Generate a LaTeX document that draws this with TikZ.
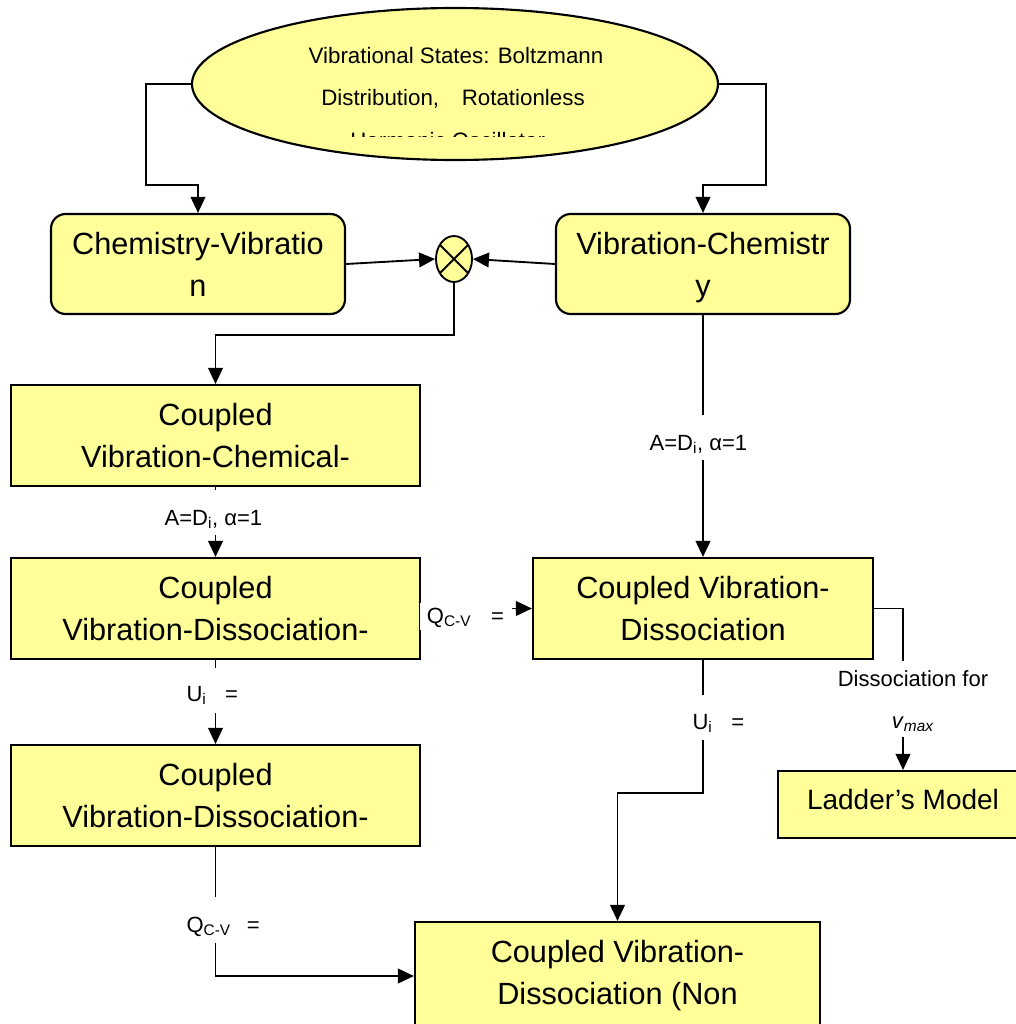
\documentclass[tikz,border=0pt]{standalone}
\usepackage{fontspec}
\setmainfont{Liberation Sans}
\usetikzlibrary{arrows.meta,shapes.geometric}
\definecolor{boxfill}{HTML}{FFFF99}

\begin{document}
\begin{tikzpicture}[x=0.75pt,y=-0.75pt,
  box/.style={draw, line width=1.6pt, fill=boxfill, align=center, inner sep=0pt,
              font=\fontsize{23}{31.5}\selectfont},
  rbox/.style={box, rounded corners=11pt},
  wide/.style={minimum width=306.75pt, minimum height=75.75pt},
  link/.style={line width=1.4pt, -{Triangle[length=12pt,width=11pt]}},
  tag/.style={fill=white, inner xsep=1pt, inner ysep=0pt, anchor=base west,
              font=\fontsize{16.5}{20}\selectfont}]

\clip (0,0) rectangle (1016,1024);
\useasboundingbox (0,0) rectangle (1016,1024);

% top ellipse and its (partly hidden) text
\node[ellipse, draw, line width=1.6pt, fill=boxfill, inner sep=0pt,
      minimum width=394.5pt, minimum height=114pt] (states) at (455,84) {};
\begin{scope}[font=\fontsize{16.75}{20}\selectfont]
  \clip (190,0) rectangle (720,136);
  \node[anchor=base] (st1) at (456,64) {Vibrational States: Boltzmann};
  \node[anchor=base] (st2) at (453,105) {Distribution,\hspace{17pt}Rotationless};
  \node[anchor=base west, inner xsep=0pt] (st3) at (350,148) {Harmonic Oscillator};
\end{scope}

% boxes
\node[rbox, minimum width=220.5pt, minimum height=75pt] (cv) at (198,264) {Chemistry-Vibratio\\n};
\node[rbox, minimum width=220.5pt, minimum height=75pt] (vc) at (703,264) {Vibration-Chemistr\\\smash{y}};
\node[ellipse, draw, fill=boxfill, line width=1.4pt, inner sep=0pt,
      minimum width=27pt, minimum height=34.5pt,
      path picture={\draw[line width=1.4pt]
        ([shift={(-30,-30)}]path picture bounding box.center) -- ([shift={(30,30)}]path picture bounding box.center)
        ([shift={(30,-30)}]path picture bounding box.center) -- ([shift={(-30,30)}]path picture bounding box.center);}]
      (mix) at (454,259) {};

\node[box, wide] (cvc) at (215.5,435.5) {Coupled\\Vibration-Chemical-};
\node[box, wide] (cvd1) at (215.5,608.5) {Coupled\\Vibration-Dissociation-};
\node[box, wide] (cvd2) at (215.5,795.5) {Coupled\\Vibration-Dissociation-};
\node[box, minimum width=255pt, minimum height=75.75pt] (cvd) at (703,608.5) {Coupled Vibration-\\Dissociation};
\node[box, minimum width=187.5pt, minimum height=50.25pt, text depth=8.25pt,
      font=\fontsize{21}{25}\selectfont] (ladder) at (903,804.5) {Ladder’s Model};
\node[box, minimum width=303.75pt, minimum height=81pt] (cvdn) at (617.5,976) {Coupled Vibration-\\Dissociation (Non};

% connectors
\coordinate (jl) at (146,185);
\coordinate (jr) at (766,185);
\coordinate (jm) at (0,335);
\coordinate (jb) at (0,793);
\draw[link] (states.west) -| (jl) -| (cv.north);
\draw[link] (states.east) -| (jr) -| (vc.north);
\draw[link] (cv.east) -- (mix.west);
\draw[link] (vc.west) -- (mix.east);
\draw[link] (mix.south) -- (mix.south |- jm) -| (cvc.north);
\draw[link] (cvc.south) -- (cvd1.north);
\draw[link] (cvd1.south) -- (cvd2.north);
\draw[link] (cvd2.south) |- (cvdn.west);
\draw[link] (vc.south) -- (cvd.north);
\draw[link] (cvd1.east) -- (cvd.west);
\draw[link] (cvd.south) -- (cvd.south |- jb) -| (cvdn.north);
\draw[link] (cvd.east) -| (ladder.north);

% connector labels
\node[tag, text height=26.25pt, text depth=7.5pt] (lab1) at (163,525) {A=D\textsubscript{i}, α=1};
\node[tag, text height=24.75pt, text depth=9pt] (lab2) at (185,701) {U\textsubscript{i}\hspace{14pt}=};
\node[tag, text height=26.25pt, text depth=8.25pt] (lab3) at (185,932) {Q\textsubscript{C-V}\hspace{12pt}=};
\node[tag, text height=26.25pt, text depth=7.5pt] (lab4) at (648,450) {A=D\textsubscript{i}, α=1};
\node[tag, text height=25.5pt, text depth=8.25pt] (lab5) at (691,729) {U\textsubscript{i}\hspace{14pt}=};
\node[tag, inner xsep=0pt, text width=69pt, align=left, text height=15pt, text depth=5pt] (lab6) at (420,623) {\hspace*{5pt}Q\textsubscript{C-V}\hspace{15pt}=};
\node[tag, anchor=base, text height=18.75pt, text depth=15.75pt] (lab7) at (913,686) {Dissociation for};
\node[tag, anchor=base, text height=15.75pt, text depth=6.75pt] (lab8) at (913,728) {\textit{v}\textsubscript{\textit{max}}};

\end{tikzpicture}
\end{document}
